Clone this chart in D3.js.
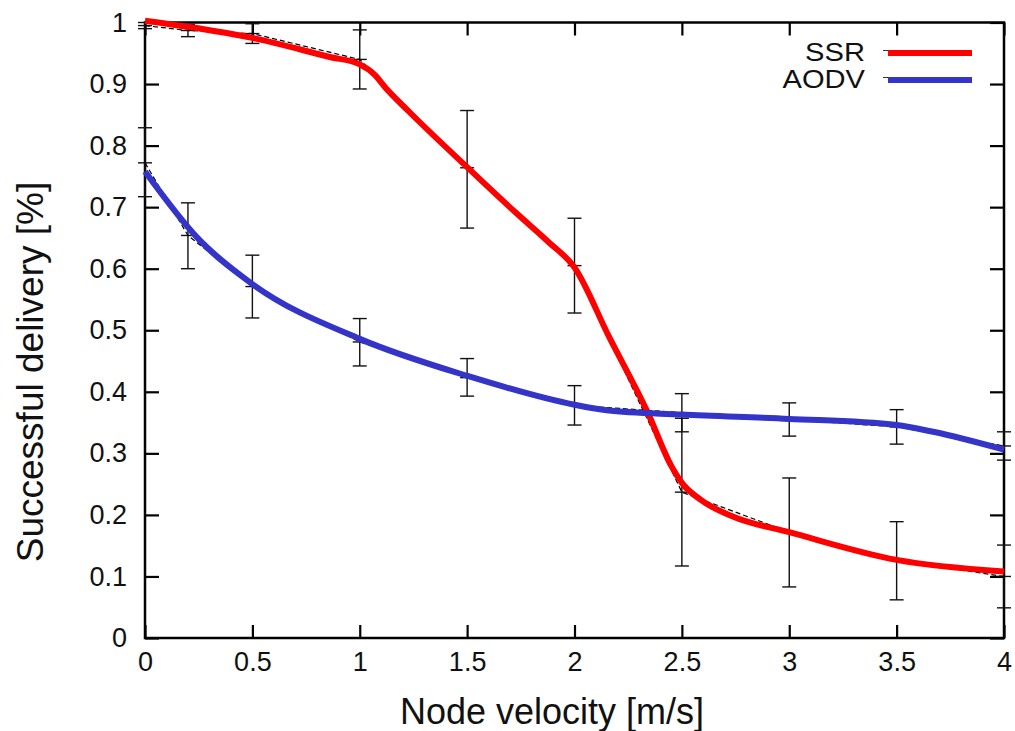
<!DOCTYPE html>
<html>
<head>
<meta charset="utf-8">
<script src="https://cdn.jsdelivr.net/npm/d3@7"></script>
<style>
  html, body { margin: 0; padding: 0; background: #ffffff; }
  svg { display: block; }
  text { font-family: "Liberation Sans", Arial, sans-serif; fill: #111; }
</style>
</head>
<body>
<svg id="chart" width="1015" height="731"></svg>
<script>
// ---- data ----
const velocities = [0, 0.2, 0.5, 1, 1.5, 2, 2.5, 3, 3.5, 4];

const ssrMean = [0.995, 0.987, 0.982, 0.940, 0.764, 0.605, 0.237, 0.172, 0.126, 0.100];
const ssrLow  = [0.990, 0.977, 0.966, 0.892, 0.666, 0.528, 0.117, 0.083, 0.062, 0.049];
const ssrHigh = [1.000, 0.997, 0.998, 0.988, 0.857, 0.682, 0.357, 0.260, 0.189, 0.151];

const aodvMean = [0.772, 0.654, 0.571, 0.481, 0.423, 0.378, 0.366, 0.355, 0.343, 0.312];
const aodvLow  = [0.717, 0.600, 0.520, 0.442, 0.393, 0.346, 0.335, 0.328, 0.315, 0.289];
const aodvHigh = [0.829, 0.707, 0.622, 0.519, 0.454, 0.410, 0.397, 0.382, 0.371, 0.335];

// smoothed curves as drawn (thick coloured lines)
const ssrCurveX = [0, 0.2, 0.5, 0.86, 1, 1.07, 1.12, 1.23, 1.5, 1.73, 1.88, 2, 2.16, 2.34, 2.45, 2.5, 2.59, 2.74, 3, 3.5, 4];
const ssrCurveY = [1.003, 0.993, 0.975, 0.944, 0.932, 0.915, 0.894, 0.855, 0.765, 0.690, 0.643, 0.602, 0.490, 0.367, 0.280, 0.252, 0.224, 0.197, 0.172, 0.127, 0.108];
const aodvCurveX = [0, 0.25, 0.5, 1, 1.5, 2, 2.15, 2.5, 3, 3.5, 3.67, 4];
const aodvCurveY = [0.758, 0.648, 0.575, 0.486, 0.426, 0.379, 0.370, 0.363, 0.356, 0.346, 0.335, 0.306];

const seriesNames = ["SSR", "AODV"];
const seriesColors = ["#ff0000", "#3434c8"];

const xTicks = [0, 0.5, 1, 1.5, 2, 2.5, 3, 3.5, 4];
const yTicks = [0, 0.1, 0.2, 0.3, 0.4, 0.5, 0.6, 0.7, 0.8, 0.9, 1];

const xTitle = "Node velocity [m/s]";
const yTitle = "Successful delivery [%]";

// ---- drawing ----
const svg = d3.select("#chart");
const L = 145, R = 1004, T = 22.5, B = 638;
const x = d3.scaleLinear().domain([0, 4]).range([L, R]);
const y = d3.scaleLinear().domain([0, 1]).range([B, T]);
const fmt = d3.format("~g");

// axes (ticks inward, mirrored)
const axB = svg.append("g").attr("transform", `translate(0,${B})`)
  .call(d3.axisBottom(x).tickValues(xTicks).tickFormat(fmt).tickSizeInner(-13).tickSizeOuter(0).tickPadding(24));
const axT = svg.append("g").attr("transform", `translate(0,${T})`)
  .call(d3.axisTop(x).tickValues(xTicks).tickFormat("").tickSizeInner(-13).tickSizeOuter(0));
const axL = svg.append("g").attr("transform", `translate(${L},0)`)
  .call(d3.axisLeft(y).tickValues(yTicks).tickFormat(fmt).tickSizeInner(-14).tickSizeOuter(0).tickPadding(18));
const axR = svg.append("g").attr("transform", `translate(${R},0)`)
  .call(d3.axisRight(y).tickValues(yTicks).tickFormat("").tickSizeInner(-14).tickSizeOuter(0));
[axB, axT, axL, axR].forEach(a => {
  a.select(".domain").remove();
  a.selectAll(".tick line").attr("stroke", "#000").attr("stroke-width", 2.2);
  a.selectAll(".tick text").attr("font-size", 27).attr("fill", "#111")
    .style("font-family", '"Liberation Sans", Arial, sans-serif');
});
axB.selectAll(".tick text").attr("dy", "0.35em");

svg.append("rect").attr("x", L).attr("y", T).attr("width", R - L).attr("height", B - T)
  .attr("fill", "none").attr("stroke", "#000").attr("stroke-width", 2.5);

// titles
svg.append("text").attr("x", 552).attr("y", 724).attr("text-anchor", "middle")
  .attr("font-size", 36).text(xTitle);
svg.append("text").attr("transform", "translate(43,372) rotate(-90)").attr("text-anchor", "middle")
  .attr("font-size", 37).text(yTitle);

const series = [
  { mean: ssrMean, low: ssrLow, high: ssrHigh, cx: ssrCurveX, cy: ssrCurveY },
  { mean: aodvMean, low: aodvLow, high: aodvHigh, cx: aodvCurveX, cy: aodvCurveY }
];

const cap = 7;
const gErr = svg.append("g").attr("stroke", "#111").attr("stroke-width", 1.4).attr("fill", "none");
series.forEach(s => {
  velocities.forEach((v, i) => {
    const xv = x(v);
    gErr.append("line").attr("x1", xv).attr("x2", xv).attr("y1", y(s.low[i])).attr("y2", y(s.high[i]));
    [s.low[i], s.high[i], s.mean[i]].forEach(val => {
      gErr.append("line").attr("x1", xv - cap).attr("x2", xv + cap).attr("y1", y(val)).attr("y2", y(val));
    });
  });
});

// raw dashed lines
const lineRaw = d3.line().x((d, i) => x(velocities[i])).y(d => y(d));
series.forEach(s => {
  svg.append("path").attr("d", lineRaw(s.mean)).attr("fill", "none")
    .attr("stroke", "#000").attr("stroke-width", 1.2).attr("stroke-dasharray", "5,3");
});

// smoothed coloured lines
series.forEach((s, k) => {
  const pts = s.cx.map((v, i) => [v, s.cy[i]]);
  const ln = d3.line().x(d => x(d[0])).y(d => y(d[1])).curve(d3.curveMonotoneX);
  svg.append("path").attr("d", ln(pts)).attr("fill", "none")
    .attr("stroke", seriesColors[k]).attr("stroke-width", 6);
});

// legend
const legY = [53, 80];
seriesNames.forEach((name, k) => {
  svg.append("text").attr("x", 865).attr("y", legY[k] + 8).attr("text-anchor", "end")
    .attr("font-size", 26).attr("transform", `translate(865,0) scale(1.12,1) translate(-865,0)`).text(name);
  svg.append("line").attr("x1", 883).attr("x2", 968).attr("y1", legY[k] - 2.5).attr("y2", legY[k] - 2.5)
    .attr("stroke", "#333").attr("stroke-width", 1.2);
  svg.append("line").attr("x1", 888).attr("x2", 972).attr("y1", legY[k]).attr("y2", legY[k])
    .attr("stroke", seriesColors[k]).attr("stroke-width", 6);
});
</script>
</body>
</html>
